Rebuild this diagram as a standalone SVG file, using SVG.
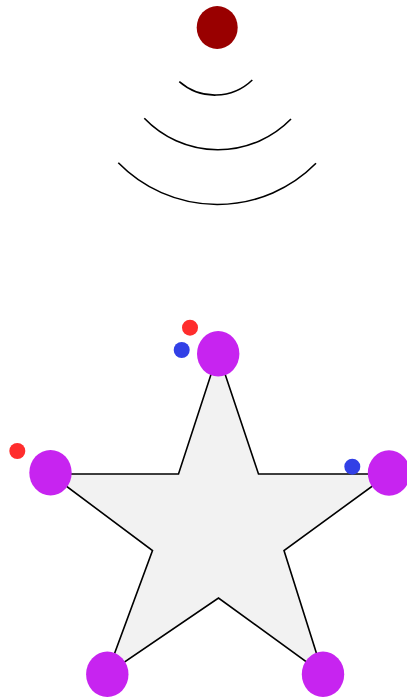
<svg xmlns="http://www.w3.org/2000/svg" width="407" height="698" viewBox="0 0 407 698">
<style>
.arc{fill:none;stroke:#000;stroke-width:1.6}
.node{fill:#c724f0}
.red{fill:#ff2d2d}
.blue{fill:#3240e6}
</style>
<rect width="407" height="698" fill="#fff"/>
<g id="source"><ellipse cx="217.2" cy="27.5" rx="20.5" ry="21.5" fill="#990000"/></g>
<g id="waves">
<path class="arc" d="M179.3,81.7 A54,54 0 0 0 252.3,80"/>
<path class="arc" d="M144.3,118.3 A102,102 0 0 0 291,119"/>
<path class="arc" d="M118.3,162.7 A138.6,138.6 0 0 0 316,163.3"/>
</g>
<g id="connectors">
<polygon points="218,353 258.5,474 389,474 284,550.5 323,674 218.5,598 107,674 152.5,550.5 50,474 178.5,474" fill="#f2f2f2" stroke="#000" stroke-width="1.6" stroke-linejoin="miter"/>
</g>
<g id="node-top"><ellipse class="node" cx="218.2" cy="353.8" rx="21.2" ry="22.8"/></g>
<g id="node-left"><ellipse class="node" cx="50.5" cy="472.7" rx="21.2" ry="22.8"/></g>
<g id="node-right"><ellipse class="node" cx="389" cy="473" rx="21.2" ry="22.8"/></g>
<g id="node-bottom-left"><ellipse class="node" cx="107.3" cy="674.3" rx="21.2" ry="22.8"/></g>
<g id="node-bottom-right"><ellipse class="node" cx="323" cy="674.3" rx="21.2" ry="22.8"/></g>
<g id="markers">
<circle class="red" cx="190" cy="327.7" r="8"/>
<circle class="blue" cx="181.7" cy="350" r="8"/>
<circle class="red" cx="17.3" cy="451" r="8"/>
<circle class="blue" cx="352.3" cy="466.7" r="8"/>
</g>
</svg>
